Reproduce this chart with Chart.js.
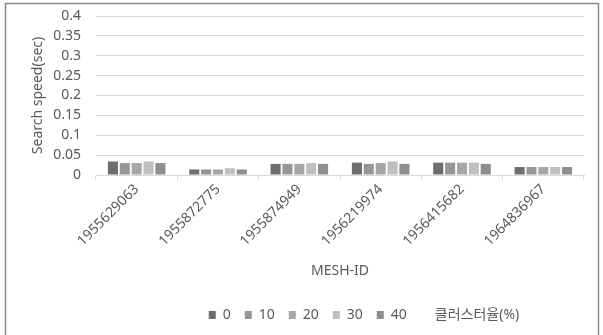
<!DOCTYPE html>
<html>
<head>
<meta charset="utf-8">
<script src="https://cdn.jsdelivr.net/npm/chart.js@4"></script>
<style>
html,body{margin:0;padding:0;background:#fff;}
#wrap{width:603px;height:335px;position:relative;}
</style>
</head>
<body>
<div id="wrap"><canvas id="c" width="603" height="335"></canvas></div>
<script>
const categories = ['1955629063','1955872775','1955874949','1956219974','1956415682','1964836967'];
const seriesLabels = ['0','10','20','30','40'];
const s0  = [0.034, 0.014, 0.028, 0.031, 0.031, 0.020];
const s10 = [0.030, 0.014, 0.028, 0.028, 0.031, 0.020];
const s20 = [0.030, 0.014, 0.028, 0.030, 0.031, 0.020];
const s30 = [0.034, 0.017, 0.030, 0.034, 0.031, 0.020];
const s40 = [0.030, 0.014, 0.028, 0.028, 0.028, 0.020];
const legendExtra = '클러스터율(%)';
const yTitle = 'Search speed(sec)';
const xTitle = 'MESH-ID';

const colors = ['#6e6e6e','#969696','#a6a6a6','#bfbfbf','#8e8e8e'];
const values = [s0,s10,s20,s30,s40];
const FONT = "'Noto Sans','Noto Sans CJK KR',sans-serif";
const TXT = '#595959';

const borderPlugin = {
  id:'outerBorder',
  afterLayout(chart){
    const lg = chart.legend;
    if (lg) { const shift = 72; lg.left += shift; lg.right += shift; }
  },
  afterDraw(chart){
    const ctx = chart.ctx;
    ctx.save();
    ctx.strokeStyle = '#8a8a8a';
    ctx.lineWidth = 1.5;
    ctx.strokeRect(5.5, 3.5, 593, 340);
    ctx.restore();
  }
};

new Chart(document.getElementById('c'), {
  type:'bar',
  data:{
    labels:categories,
    datasets: seriesLabels.map((l,i)=>({
      label:l, data:values[i], backgroundColor:colors[i],
      categoryPercentage:0.73, barPercentage:0.85
    }))
  },
  options:{
    responsive:false,
    animation:false,
    devicePixelRatio:1,
    layout:{padding:{left:0,right:19,top:16,bottom:3}},
    plugins:{
      tooltip:{enabled:false},
      legend:{
        position:'bottom',
        labels:{
          font:{family:FONT,size:14},
          color:TXT,
          boxWidth:7, boxHeight:8,
          padding:14,
          generateLabels(chart){
            const items = Chart.defaults.plugins.legend.labels.generateLabels(chart);
            items.forEach(it=>{it.lineWidth=0;it.strokeStyle='rgba(0,0,0,0)';});
            items.push({text:legendExtra, fillStyle:'rgba(0,0,0,0)', strokeStyle:'rgba(0,0,0,0)', lineWidth:0, hidden:false, datasetIndex:-1, fontColor:TXT});
            return items;
          }
        }
      }
    },
    scales:{
      x:{
        afterFit(s){ s.height = 119; s.paddingTop = 0; s.paddingBottom = 0; },
        grid:{drawOnChartArea:false, color:'#d9d9d9', tickLength:5, offset:true},
        border:{color:'#d9d9d9'},
        ticks:{font:{family:FONT,size:14}, color:TXT, maxRotation:45, minRotation:45, padding:1},
        title:{display:true, text:xTitle, font:{family:FONT,size:14}, color:TXT, padding:{top:4,bottom:15}}
      },
      y:{
        min:0, max:0.4,
        afterFit(s){ s.width = 96; s.paddingTop = 0; s.paddingBottom = 0; },
        grid:{color:'#d9d9d9', drawTicks:false},
        border:{display:false},
        ticks:{stepSize:0.05, autoSkip:false, font:{family:FONT,size:14}, color:TXT, padding:15,
          callback:v=>String(+v.toFixed(2))},
        title:{display:true, text:yTitle, font:{family:FONT,size:14}, color:TXT, padding:{top:30,bottom:0}}
      }
    }
  },
  plugins:[borderPlugin]
});
</script>
</body>
</html>
